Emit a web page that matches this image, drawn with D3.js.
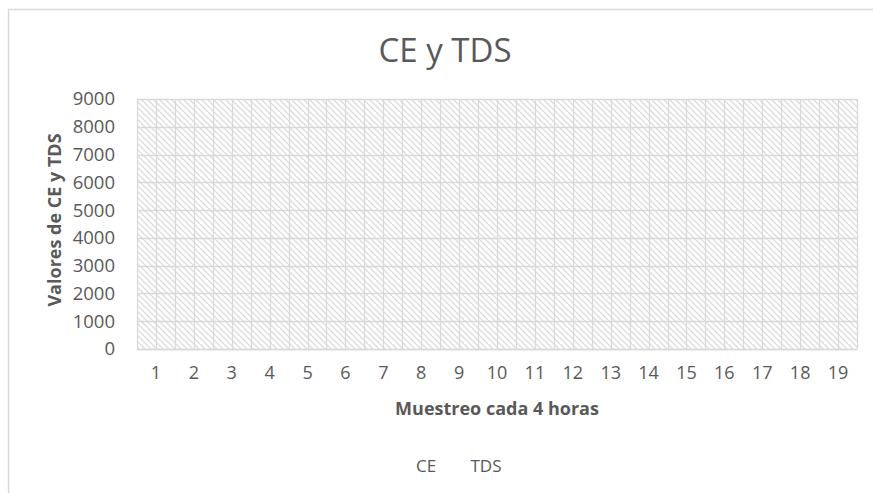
<!DOCTYPE html>
<html>
<head>
<meta charset="utf-8">
<script src="https://cdn.jsdelivr.net/npm/d3@7/dist/d3.min.js"></script>
<style>
  html, body { margin: 0; padding: 0; background: #fff; }
  svg { display: block; }
  text { font-family: "Open Sans", Lato, sans-serif; fill: #595959; }
</style>
</head>
<body>
<svg id="chart" width="873" height="493"></svg>
<script>
// Sampling points (every 4 hours)
const categories = ["1","2","3","4","5","6","7","8","9","10","11","12","13","14","15","16","17","18","19"];
// Series values: no readings recorded for either series
const ceValues  = [null,null,null,null,null,null,null,null,null,null,null,null,null,null,null,null,null,null,null];
const tdsValues = [null,null,null,null,null,null,null,null,null,null,null,null,null,null,null,null,null,null,null];
const yTicks = [0,1000,2000,3000,4000,5000,6000,7000,8000,9000];
const seriesNames = ["CE", "TDS"];

const svg = d3.select("#chart");
const W = 873, H = 493;
const plot = { left: 137, right: 857, top: 99, bottom: 349 };

// outer chart frame
svg.append("rect")
  .attr("x", 8.5).attr("y", 9.5)
  .attr("width", W + 20).attr("height", H + 20)
  .attr("fill", "#fff").attr("stroke", "#d9d9d9").attr("stroke-width", 1.5);

// diagonal hatch for the plot area
const defs = svg.append("defs");
const pat = defs.append("pattern")
  .attr("id", "hatch").attr("patternUnits", "userSpaceOnUse")
  .attr("width", 6).attr("height", 6);
pat.append("path")
  .attr("d", "M-1,-1 L7,7 M-1,5 L1,7 M5,-1 L7,1")
  .attr("stroke", "#dcdcdc").attr("stroke-width", 1.3);

const x = d3.scaleBand().domain(categories).range([plot.left, plot.right]).padding(0);
const y = d3.scaleLinear().domain([0, 9000]).range([plot.bottom, plot.top]);

svg.append("rect")
  .attr("x", plot.left).attr("y", plot.top)
  .attr("width", plot.right - plot.left).attr("height", plot.bottom - plot.top)
  .attr("fill", "url(#hatch)");

// horizontal gridlines
svg.append("g").selectAll("line").data(yTicks).join("line")
  .attr("x1", plot.left).attr("x2", plot.right)
  .attr("y1", d => Math.round(y(d)) + 0.5).attr("y2", d => Math.round(y(d)) + 0.5)
  .attr("stroke", "#d9d9d9").attr("stroke-width", 1.3);

// vertical gridlines at category edges and centres
const vLines = [];
categories.forEach(c => { vLines.push(x(c)); vLines.push(x(c) + x.bandwidth() / 2); });
vLines.push(plot.right);
svg.append("g").selectAll("line").data(vLines).join("line")
  .attr("x1", d => Math.round(d) + 0.5).attr("x2", d => Math.round(d) + 0.5)
  .attr("y1", plot.top).attr("y2", plot.bottom)
  .attr("stroke", "#d9d9d9").attr("stroke-width", 1.3);

// y axis
const yAxis = svg.append("g")
  .attr("transform", `translate(${plot.left},0)`)
  .call(d3.axisLeft(y).tickValues(yTicks).tickFormat(d3.format("d")).tickSize(0).tickPadding(22));
yAxis.select(".domain").remove();
yAxis.selectAll("text").style("font-size", "18.5px").style("fill", "#595959")
  .style("font-family", "'Open Sans', sans-serif");

// x axis
const xAxis = svg.append("g")
  .attr("transform", `translate(0,${plot.bottom})`)
  .call(d3.axisBottom(x).tickSize(0).tickPadding(17));
xAxis.select(".domain").attr("stroke", "#d9d9d9").attr("stroke-width", 1.5);
xAxis.selectAll("text").style("font-size", "18px").style("fill", "#595959")
  .style("font-family", "'Open Sans', sans-serif");

// series lines (drawn where values exist)
const line = d3.line()
  .defined(d => d.v != null)
  .x(d => x(d.c) + x.bandwidth() / 2)
  .y(d => y(d.v));
[ceValues, tdsValues].forEach((vals, i) => {
  svg.append("path")
    .datum(categories.map((c, j) => ({ c, v: vals[j] })))
    .attr("fill", "none").attr("stroke", i ? "#ed7d31" : "#4472c4")
    .attr("stroke-width", 2.25).attr("d", line);
});

// title
svg.append("text")
  .attr("x", 445).attr("y", 62).attr("text-anchor", "middle")
  .style("font-size", "33px").text("CE y TDS");

// axis titles
svg.append("text")
  .attr("transform", "translate(61,220) rotate(-90)")
  .attr("text-anchor", "middle")
  .style("font-size", "18px").style("font-weight", "bold")
  .text("Valores de CE y TDS");
svg.append("text")
  .attr("x", 497).attr("y", 415).attr("text-anchor", "middle")
  .style("font-size", "18px").style("font-weight", "bold")
  .text("Muestreo cada 4 horas");

// legend
const legend = svg.append("g");
legend.selectAll("text").data(seriesNames).join("text")
  .attr("x", (d, i) => i ? 486 : 426).attr("y", 472)
  .attr("text-anchor", "middle")
  .style("font-size", "17px")
  .text(d => d);
</script>
</body>
</html>
